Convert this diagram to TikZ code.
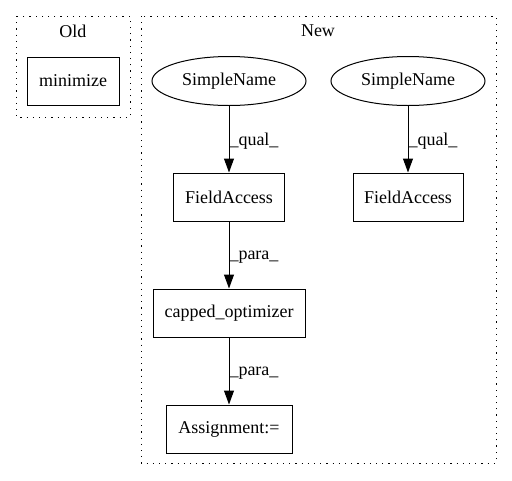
\documentclass[tikz,border=0pt]{standalone}
\usepackage{fontspec}
\setmainfont{Liberation Serif}
\usetikzlibrary{arrows.meta,shapes.geometric}

\begin{document}
\begin{tikzpicture}[
	x=1pt, y=-1pt,
	every node/.style={font=\fontsize{18}{21}\selectfont},
	cluster/.style={draw=black, line width=1pt, dash pattern=on 1.2pt off 5pt},
	astbox/.style={draw=black, line width=1pt, rectangle, minimum height=48pt, inner xsep=8pt},
	astname/.style={draw=black, line width=1pt, ellipse, minimum width=154pt, minimum height=49pt, inner sep=0pt},
	edge/.style={line width=1pt, -{Triangle[length=14pt,width=10pt]}},
	elabel/.style={anchor=west, inner xsep=0pt}
	]
	\useasboundingbox (0,0) rectangle (512,480);
	
	% clusters
	\draw[cluster] (16,16) rectangle (130,117);
	\node (oldlbl) at (73,31) {Old};
	\draw[cluster] (141,16) rectangle (496,463);
	\node (newlbl) at (318,31) {New};
	
	% old
	\node[astbox, minimum width=92pt] (minimize) at (73,81) {minimize};
	
	% new
	\node[astname] (sname1) at (229,81) {SimpleName};
	\node[astname] (sname2) at (408,81) {SimpleName};
	\node[astbox, minimum width=111pt] (faccess1) at (229,197) {FieldAccess};
	\node[astbox, minimum width=110pt] (faccess2) at (408,197) {FieldAccess};
	\node[astbox, minimum width=152pt] (capped) at (229,313) {capped\_optimizer};
	\node[astbox, minimum width=126pt] (assign) at (229,429) {Assignment:=};
	
	\draw[edge] (sname1) -- node[elabel, yshift=-2pt] {\_qual\_} (faccess1);
	\draw[edge] (sname2) -- node[elabel, yshift=-2pt] {\_qual\_} (faccess2);
	\draw[edge] (faccess1) -- node[elabel, yshift=-2pt] {\_para\_} (capped);
	\draw[edge] (capped) -- node[elabel, yshift=-2pt] {\_para\_} (assign);
	
\end{tikzpicture}
\end{document}
